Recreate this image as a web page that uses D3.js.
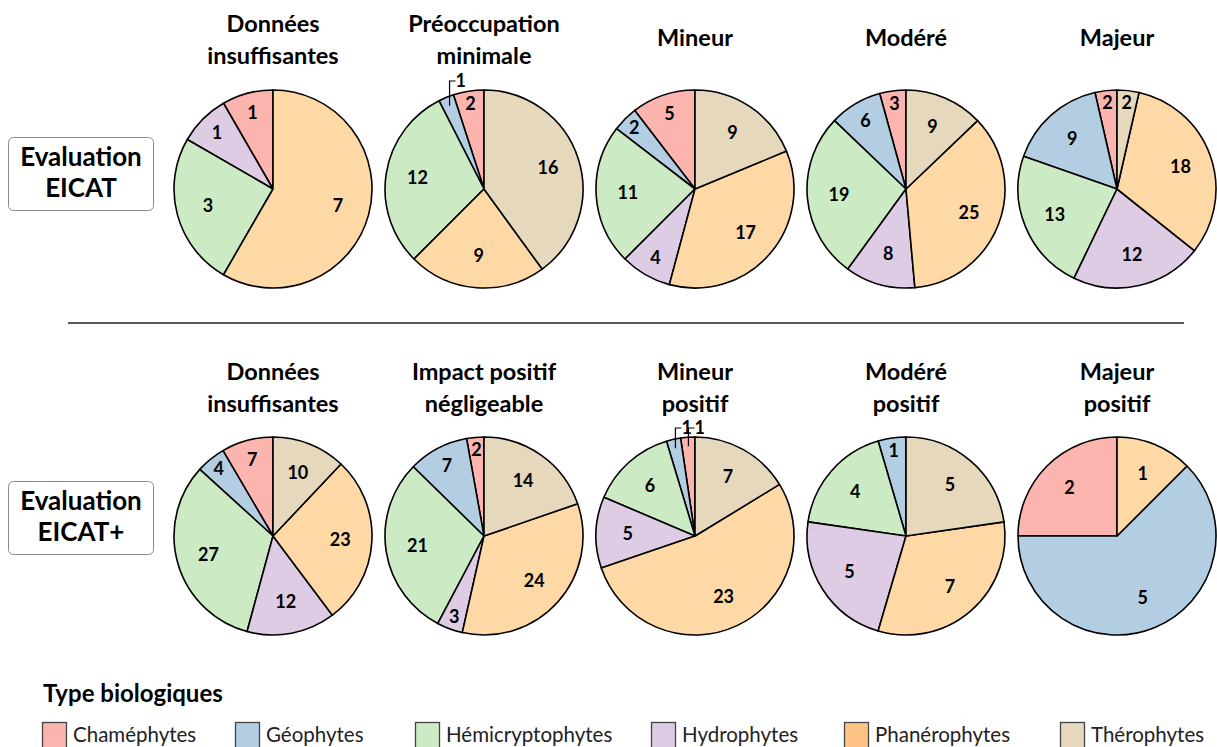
<!DOCTYPE html>
<html>
<head>
<meta charset="utf-8">
<script src="https://cdn.jsdelivr.net/npm/d3@7"></script>
<style>
  html, body { margin: 0; padding: 0; background: #fff; }
  svg { display: block; font-family: Lato, "Open Sans", sans-serif; }
</style>
</head>
<body>
<svg id="chart" width="1217" height="747"></svg>
<script>
// ---- Data ----
const categories = ["Chaméphytes", "Géophytes", "Hémicryptophytes", "Hydrophytes", "Phanérophytes", "Thérophytes"];
const pieColors = ["#fbb4ae", "#b3cde3", "#ccebc5", "#decbe4", "#fed9a6", "#e5d8bd"];
const legendColors = ["#fbb4ae", "#b3cde3", "#ccebc5", "#decbe4", "#ffc285", "#e5d8bd"];

const rowLabels = [["Evaluation", "EICAT"], ["Evaluation", "EICAT+"]];
const legendTitle = "Type biologiques";

const eicatTitles = [["Données", "insuffisantes"], ["Préoccupation", "minimale"], ["Mineur"], ["Modéré"], ["Majeur"]];
// values in category order
const eicatValues = [
  [1, 0, 3, 1, 7, 0],
  [2, 1, 12, 0, 9, 16],
  [5, 2, 11, 4, 17, 9],
  [3, 6, 19, 8, 25, 9],
  [2, 9, 13, 12, 18, 2]
];
// counter-clockwise slice order from 12 o'clock (category indices)
const eicatOrders = [
  [0, 1, 3, 2, 4, 5],
  [0, 1, 2, 3, 4, 5],
  [0, 1, 2, 3, 4, 5],
  [0, 1, 2, 3, 4, 5],
  [0, 1, 2, 3, 4, 5]
];

const eicatPlusTitles = [["Données", "insuffisantes"], ["Impact positif", "négligeable"], ["Mineur", "positif"], ["Modéré", "positif"], ["Majeur", "positif"]];
const eicatPlusValues = [
  [7, 4, 27, 12, 23, 10],
  [2, 7, 21, 3, 24, 14],
  [1, 1, 6, 5, 23, 7],
  [0, 1, 4, 5, 7, 5],
  [2, 5, 0, 0, 1, 0]
];
const eicatPlusOrders = [
  [0, 1, 2, 3, 4, 5],
  [0, 1, 2, 3, 4, 5],
  [0, 1, 2, 3, 4, 5],
  [0, 1, 2, 3, 4, 5],
  [0, 1, 2, 3, 4, 5]
];

// ---- Layout ----
const svg = d3.select("#chart");
const R = 99;
const colX = d3.scalePoint().domain(d3.range(5)).range([273, 1117]);
const rows = [
  { titles: eicatTitles, values: eicatValues, orders: eicatOrders, cy: 189, titleBase: 32, single: 46, label: rowLabels[0], boxY: 137 },
  { titles: eicatPlusTitles, values: eicatPlusValues, orders: eicatPlusOrders, cy: 536, titleBase: 380, single: 380, label: rowLabels[1], boxY: 481 }
];

const arc = d3.arc().innerRadius(0).outerRadius(R);
const pie = d3.pie().sort(null).value(d => d.v).startAngle(0).endAngle(-2 * Math.PI);

rows.forEach(row => {
  // row label box
  const g0 = svg.append("g");
  g0.append("rect")
    .attr("x", 8.5).attr("y", row.boxY + 0.5).attr("width", 145).attr("height", 73)
    .attr("rx", 5).attr("fill", "#fff").attr("stroke", "#8a8a8a").attr("stroke-width", 1);
  row.label.forEach((t, i) => {
    g0.append("text").attr("x", 81).attr("y", row.boxY + 29 + i * 31)
      .attr("text-anchor", "middle").attr("font-weight", 700).attr("font-size", 26)
      .attr("fill", "#000").text(t);
  });

  row.values.forEach((vals, k) => {
    const cx = colX(k), cy = row.cy;
    const g = svg.append("g").attr("transform", `translate(${cx},${cy})`);
    // title
    const lines = row.titles[k];
    lines.forEach((t, i) => {
      const y = lines.length === 1 ? row.single : row.titleBase + i * 31.5;
      svg.append("text").attr("x", cx).attr("y", y)
        .attr("text-anchor", "middle").attr("font-weight", 700).attr("font-size", 23.5)
        .attr("fill", "#000").text(t);
    });

    const data = row.orders[k].map(ci => ({ c: ci, v: vals[ci] })).filter(d => d.v > 0);
    const arcs = pie(data);
    g.selectAll("path.slice").data(arcs).enter().append("path")
      .attr("class", "slice")
      .attr("d", arc)
      .attr("fill", d => pieColors[d.data.c])
      .attr("stroke", "#000").attr("stroke-width", 1.6).attr("stroke-linejoin", "round");

    arcs.forEach(a => {
      const span = Math.abs(a.endAngle - a.startAngle) * 180 / Math.PI;
      const mid = (a.startAngle + a.endAngle) / 2;
      if (span < 9.5) {
        // leader label above the pie
        const px = (R - 9) * Math.sin(mid), py = -(R - 9) * Math.cos(mid);
        const topY = -R - 9;
        g.append("path")
          .attr("d", `M${px},${py}L${px},${topY}L${px + 6},${topY}`)
          .attr("fill", "none").attr("stroke", "#000").attr("stroke-width", 1.2);
        g.append("text").attr("x", px + 6).attr("y", topY + 6)
          .attr("font-weight", 700).attr("font-size", 18).attr("fill", "#000").text(a.data.v);
      } else {
        const f = span < 25 ? 0.87 : (span < 40 ? 0.8 : 0.68);
        const lx = f * R * Math.sin(mid), ly = -f * R * Math.cos(mid);
        g.append("text").attr("x", lx).attr("y", ly + 6)
          .attr("text-anchor", "middle").attr("font-weight", 700).attr("font-size", 18)
          .attr("fill", "#000").text(a.data.v);
      }
    });
  });
});

// separator line
svg.append("line").attr("x1", 68).attr("x2", 1184).attr("y1", 323).attr("y2", 323)
  .attr("stroke", "#222").attr("stroke-width", 1.5);

// legend
svg.append("text").attr("x", 43).attr("y", 702).attr("font-weight", 700).attr("font-size", 24)
  .attr("fill", "#000").text(legendTitle);
const legendX = [42, 235, 415, 651, 844, 1060];
const lg = svg.append("g");
categories.forEach((c, i) => {
  lg.append("rect").attr("x", legendX[i] + 0.5).attr("y", 722.5).attr("width", 24).attr("height", 30)
    .attr("fill", legendColors[i]).attr("stroke", "#444").attr("stroke-width", 1.3);
  lg.append("text").attr("x", legendX[i] + 31).attr("y", 742).attr("font-size", 20.5)
    .attr("fill", "#222").text(c);
});
</script>
</body>
</html>
